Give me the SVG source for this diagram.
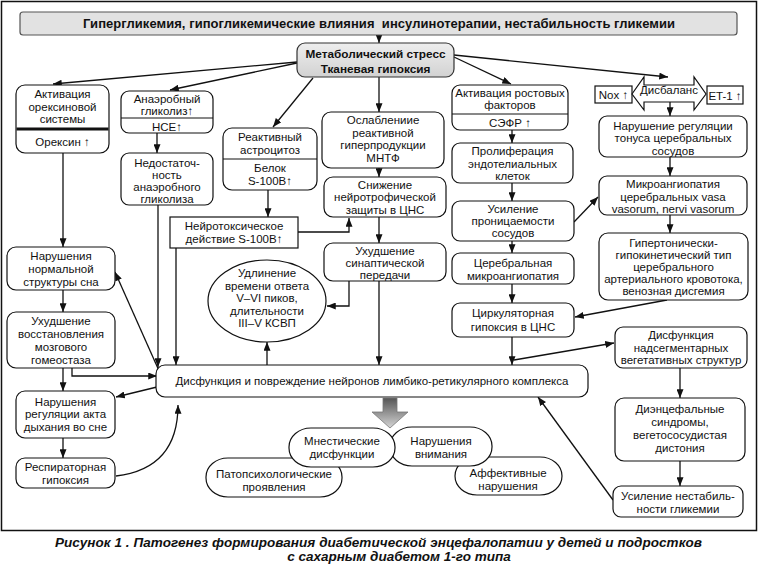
<svg xmlns="http://www.w3.org/2000/svg" width="758" height="565" viewBox="0 0 758 565">
<defs>
<marker id="ah" viewBox="0 0 10 8" refX="10" refY="4" markerWidth="9" markerHeight="7" markerUnits="userSpaceOnUse" orient="auto"><path d="M0,0 L10,4 L0,8 z" fill="#111"/></marker>
<linearGradient id="gm" x1="0" y1="0" x2="0" y2="1"><stop offset="0" stop-color="#eeeeee"/><stop offset="1" stop-color="#d2d2d2"/></linearGradient>
<linearGradient id="ga" x1="0" y1="0" x2="0" y2="1"><stop offset="0" stop-color="#555555"/><stop offset="1" stop-color="#d4d4d4"/></linearGradient>
<style>
.b{fill:#fff;stroke:#111;stroke-width:1.2}
.d{stroke:#111;stroke-width:1}
.t{font-family:"Liberation Sans",Arial,sans-serif;font-size:11.5px;fill:#111;text-anchor:middle}
.tb{font-family:"Liberation Sans",Arial,sans-serif;font-weight:bold;fill:#111;text-anchor:middle}
.c{fill:none;stroke:#111;stroke-width:1.3;marker-end:url(#ah)}
.cap{font-family:"Liberation Sans",Arial,sans-serif;font-weight:bold;font-style:italic;font-size:13.5px;fill:#111}
</style>
</defs>
<rect x="0" y="0" width="758" height="565" fill="#fff"/>
<rect x="1.5" y="1.5" width="755" height="529" fill="none" stroke="#111" stroke-width="1.5"/>

<g id="connectors">
<path class="c" d="M379,35 L379,43"/>
<path class="c" d="M297,62 L53,84"/>
<path class="c" d="M297,63 L170,90"/>
<path class="c" d="M313,78 L273,127"/>
<path class="c" d="M379,77 L379,112"/>
<path class="c" d="M454,57 L511,84"/>
<path class="c" d="M454,55 L668,77"/>
<path class="c" d="M63,153 L63,247"/>
<path class="c" d="M157,133 L157,153"/>
<path class="c" d="M158,205 L158,367"/>
<path class="c" d="M268,190 L268,217"/>
<path class="c" d="M176,248 L176,365"/>
<path class="c" d="M298,232 L349,232 L349,218"/>
<path class="c" d="M379,168 L379,177"/>
<path class="c" d="M379,217 L379,243"/>
<path class="c" d="M379,281 L379,365"/>
<path class="c" d="M349,281 L349,306 L327,306"/>
<path class="c" d="M267,365 L267,342"/>
<path class="c" d="M63,290 L63,312"/>
<path class="c" d="M63,368 L63,391"/>
<path class="c" d="M72,368 L72,376 L157,376"/>
<path class="c" d="M157,387 L116,397"/>
<path class="c" d="M160,373 L115,272"/>
<path class="c" d="M63,438 L63,458"/>
<path class="c" d="M116,476 C150,472 178,455 178,405"/>
<path class="c" d="M512,130 L512,143"/>
<path class="c" d="M512,183 L512,201"/>
<path class="c" d="M512,241 L512,253"/>
<path class="c" d="M512,284 L512,303"/>
<path class="c" d="M512,337 L512,365"/>
<path class="c" d="M514,360 L614,343"/>
<path class="c" d="M574,222 L598,197"/>
<path class="c" d="M667,300 L575,317"/>
<path class="c" d="M670,102 L670,116"/>
<path class="c" d="M670,157 L670,176"/>
<path class="c" d="M670,215 L670,233"/>
<path class="c" d="M680,368 L680,398"/>
<path class="c" d="M680,461 L680,486"/>
<path class="c" d="M613,500 L538,397"/>
</g>

<g id="node-title">
<rect x="20" y="12" width="717" height="23" rx="3" fill="#e2e2e2" stroke="#555" stroke-width="1.2"/>
<text class="tb" x="379" y="28" font-size="13" textLength="592" xml:space="preserve">Гипергликемия, гипогликемические влияния  инсулинотерапии, нестабильность гликемии</text>
</g>

<g id="node-metab">
<rect x="297" y="43" width="157" height="34" rx="8" fill="url(#gm)" stroke="#333" stroke-width="1.2"/>
<text class="tb" x="375.5" y="58" font-size="11.8">Метаболический стресс</text>
<text class="tb" x="375.5" y="73" font-size="11.8">Тканевая гипоксия</text>
</g>

<g id="node-orexin">
<rect class="b" x="16" y="85" width="93" height="68" rx="9"/>
<line x1="16.5" y1="129" x2="108.5" y2="129" stroke="#111" stroke-width="3"/>
<text class="t" x="62.5" y="98">Активация</text>
<text class="t" x="62.5" y="110.5">орексиновой</text>
<text class="t" x="62.5" y="123">системы</text>
<text class="t" x="62.5" y="146">Орексин ↑</text>
</g>

<g id="node-anaerobic">
<rect class="b" x="121" y="91" width="92" height="42" rx="8"/>
<line class="d" x1="121" y1="118" x2="213" y2="118"/>
<text class="t" x="167" y="102.5">Анаэробный</text>
<text class="t" x="167" y="114.5">гликолиз↑</text>
<text class="t" x="167" y="130.5">НСЕ↑</text>
</g>

<g id="node-insufficiency">
<rect class="b" x="121" y="153" width="92" height="52" rx="8"/>
<text class="t" x="167" y="166.5">Недостаточ-</text>
<text class="t" x="167" y="178.5">ность</text>
<text class="t" x="167" y="190.5">анаэробного</text>
<text class="t" x="167" y="202.5">гликолиза</text>
</g>

<g id="node-astro">
<rect class="b" x="223" y="128" width="94" height="62" rx="9"/>
<line class="d" x1="223" y1="159" x2="317" y2="159"/>
<text class="t" x="270" y="141">Реактивный</text>
<text class="t" x="270" y="153.5">астроцитоз</text>
<text class="t" x="270" y="172">Белок</text>
<text class="t" x="270" y="184.5">S-100B↑</text>
</g>

<g id="node-neurotoxic">
<rect class="b" x="170" y="217" width="128" height="31"/>
<text class="t" x="234" y="229.5">Нейротоксическое</text>
<text class="t" x="234" y="243">действие S-100B↑</text>
</g>

<g id="node-weakening">
<rect class="b" x="322" y="112" width="122" height="56" rx="9"/>
<text class="t" x="383" y="124">Ослаблениие</text>
<text class="t" x="383" y="136.5">реактивной</text>
<text class="t" x="383" y="149">гиперпродукции</text>
<text class="t" x="383" y="161.5">МНТФ</text>
</g>

<g id="node-neurotrophic">
<rect class="b" x="324" y="177" width="122" height="40" rx="9"/>
<text class="t" x="385" y="188.5">Снижение</text>
<text class="t" x="385" y="201">нейротрофической</text>
<text class="t" x="385" y="213.5">защиты в ЦНС</text>
</g>

<g id="node-synaptic">
<rect class="b" x="324" y="243" width="122" height="38" rx="9"/>
<text class="t" x="385" y="254.5">Ухудшение</text>
<text class="t" x="385" y="267">синаптической</text>
<text class="t" x="385" y="279">передачи</text>
</g>

<g id="node-ellipse">
<ellipse class="b" cx="267" cy="301" rx="59" ry="41"/>
<text class="t" x="267" y="277">Удлинение</text>
<text class="t" x="267" y="289.5">времени ответа</text>
<text class="t" x="267" y="302">V–VI пиков,</text>
<text class="t" x="267" y="314.5">длительности</text>
<text class="t" x="267" y="327">III–V КСВП</text>
</g>

<g id="node-growth">
<rect class="b" x="452" y="85" width="116" height="45" rx="8"/>
<line class="d" x1="452" y1="114" x2="568" y2="114"/>
<text class="t" x="510" y="96.5">Активация ростовых</text>
<text class="t" x="510" y="109">факторов</text>
<text class="t" x="510" y="127">СЭФР ↑</text>
</g>

<g id="node-prolif">
<rect class="b" x="452" y="143" width="121" height="40" rx="8"/>
<text class="t" x="512.5" y="155">Пролиферация</text>
<text class="t" x="512.5" y="167.5">эндотелиальных</text>
<text class="t" x="512.5" y="179.5">клеток</text>
</g>

<g id="node-permeab">
<rect class="b" x="452" y="201" width="122" height="40" rx="8"/>
<text class="t" x="513" y="212.5">Усиление</text>
<text class="t" x="513" y="225">проницаемости</text>
<text class="t" x="513" y="237">сосудов</text>
</g>

<g id="node-cermicro">
<rect class="b" x="452" y="253" width="122" height="31" rx="8"/>
<text class="t" x="513" y="266.5">Церебральная</text>
<text class="t" x="513" y="279.5">микроангиопатия</text>
</g>

<g id="node-circ">
<rect class="b" x="452" y="303" width="122" height="34" rx="8"/>
<text class="t" x="513" y="317">Циркуляторная</text>
<text class="t" x="513" y="330.5">гипоксия в ЦНС</text>
</g>

<g id="node-nox">
<rect class="b" x="595" y="86" width="37" height="17"/>
<text class="t" x="613.5" y="99">Nox ↑</text>
</g>

<g id="node-disbalance">
<polygon class="b" points="632,94 644,77 644,85 694,85 694,77 706,94 694,110 694,102 644,102 644,110"/>
<text class="t" x="669" y="94" font-size="9.5">Дисбаланс</text>
</g>

<g id="node-et1">
<rect class="b" x="707" y="86" width="36" height="18"/>
<text class="t" x="725" y="99.5">ET-1 ↑</text>
</g>

<g id="node-regulation">
<rect class="b" x="599" y="116" width="148" height="41" rx="8"/>
<text class="t" x="673" y="129.5">Нарушение регуляции</text>
<text class="t" x="673" y="142">тонуса церебральных</text>
<text class="t" x="673" y="154.5">сосудов</text>
</g>

<g id="node-vasa">
<rect class="b" x="599" y="176" width="148" height="39" rx="8"/>
<text class="t" x="673" y="188">Микроангиопатия</text>
<text class="t" x="673" y="200.5">церебральных vasa</text>
<text class="t" x="673" y="212.5">vasorum, nervi vasorum</text>
</g>

<g id="node-hypertonic">
<rect class="b" x="599" y="233" width="149" height="67" rx="9"/>
<text class="t" x="673.5" y="246.5">Гипертонически-</text>
<text class="t" x="673.5" y="258.5">гипокинетический тип</text>
<text class="t" x="673.5" y="270.5">церебрального</text>
<text class="t" x="673.5" y="282.5">артериального кровотока,</text>
<text class="t" x="673.5" y="294.5">венозная дисгемия</text>
</g>

<g id="node-supraseg">
<rect class="b" x="615" y="327" width="132" height="41" rx="8"/>
<text class="t" x="681" y="339">Дисфункция</text>
<text class="t" x="681" y="351.5">надсегментарных</text>
<text class="t" x="681" y="363.5">вегетативных структур</text>
</g>

<g id="node-dienceph">
<rect class="b" x="615" y="398" width="130" height="63" rx="9"/>
<text class="t" x="680" y="413">Диэнцефальные</text>
<text class="t" x="680" y="426">синдромы,</text>
<text class="t" x="680" y="439">вегетососудистая</text>
<text class="t" x="680" y="452">дистония</text>
</g>

<g id="node-instab">
<rect class="b" x="613" y="486" width="130" height="31" rx="8"/>
<text class="t" x="678" y="500">Усиление нестабиль-</text>
<text class="t" x="678" y="512.5">ности гликемии</text>
</g>

<g id="node-sleep">
<rect class="b" x="7" y="247" width="108" height="43" rx="9"/>
<text class="t" x="61" y="260">Нарушения</text>
<text class="t" x="61" y="273">нормальной</text>
<text class="t" x="61" y="286">структуры сна</text>
</g>

<g id="node-homeo">
<rect class="b" x="7" y="312" width="108" height="56" rx="9"/>
<text class="t" x="61" y="324.5">Ухудшение</text>
<text class="t" x="61" y="337.5">восстановления</text>
<text class="t" x="61" y="350.5">мозгового</text>
<text class="t" x="61" y="363.5">гомеостаза</text>
</g>

<g id="node-breath">
<rect class="b" x="16" y="391" width="99" height="47" rx="9"/>
<text class="t" x="65.5" y="405.5">Нарушения</text>
<text class="t" x="65.5" y="418">регуляции акта</text>
<text class="t" x="65.5" y="430.5">дыхания во сне</text>
</g>

<g id="node-resp">
<rect class="b" x="16" y="458" width="99" height="30" rx="9"/>
<text class="t" x="65.5" y="471">Респираторная</text>
<text class="t" x="65.5" y="483.5">гипоксия</text>
</g>

<g id="node-dysfunction">
<rect class="b" x="156" y="365" width="432" height="32" rx="9"/>
<text class="t" x="372" y="385">Дисфункция и повреждение нейронов лимбико-ретикулярного комплекса</text>
</g>

<g id="node-blockarrow">
<polygon points="383,398 397,398 397,412 408,412 390,428 372,412 383,412" fill="url(#ga)" stroke="#777" stroke-width="0.8"/>
</g>

<g id="node-patopsy">
<rect class="b" x="206" y="458" width="136" height="39" rx="22" ry="19"/>
<text class="t" x="274" y="478">Патопсихологические</text>
<text class="t" x="274" y="491">проявления</text>
</g>

<g id="node-affect">
<rect class="b" x="455" y="457" width="107" height="38" rx="22" ry="19"/>
<text class="t" x="508" y="477">Аффективные</text>
<text class="t" x="508" y="490">нарушения</text>
</g>

<g id="node-attention">
<rect class="b" x="390" y="427" width="102" height="39" rx="22" ry="19"/>
<text class="t" x="441" y="445">Нарушения</text>
<text class="t" x="441" y="458">внимания</text>
</g>

<g id="node-mnestic">
<rect class="b" x="289" y="428" width="106" height="39" rx="22" ry="19"/>
<text class="t" x="342" y="445">Мнестические</text>
<text class="t" x="342" y="458">дисфункции</text>
</g>

<g id="caption">
<text class="cap" x="55" y="547" textLength="647">Рисунок 1 . Патогенез формирования диабетической энцефалопатии у детей и подростков</text>
<text class="cap" x="399" y="561" font-size="13" text-anchor="middle">с сахарным диабетом 1-го типа</text>
</g>
</svg>
